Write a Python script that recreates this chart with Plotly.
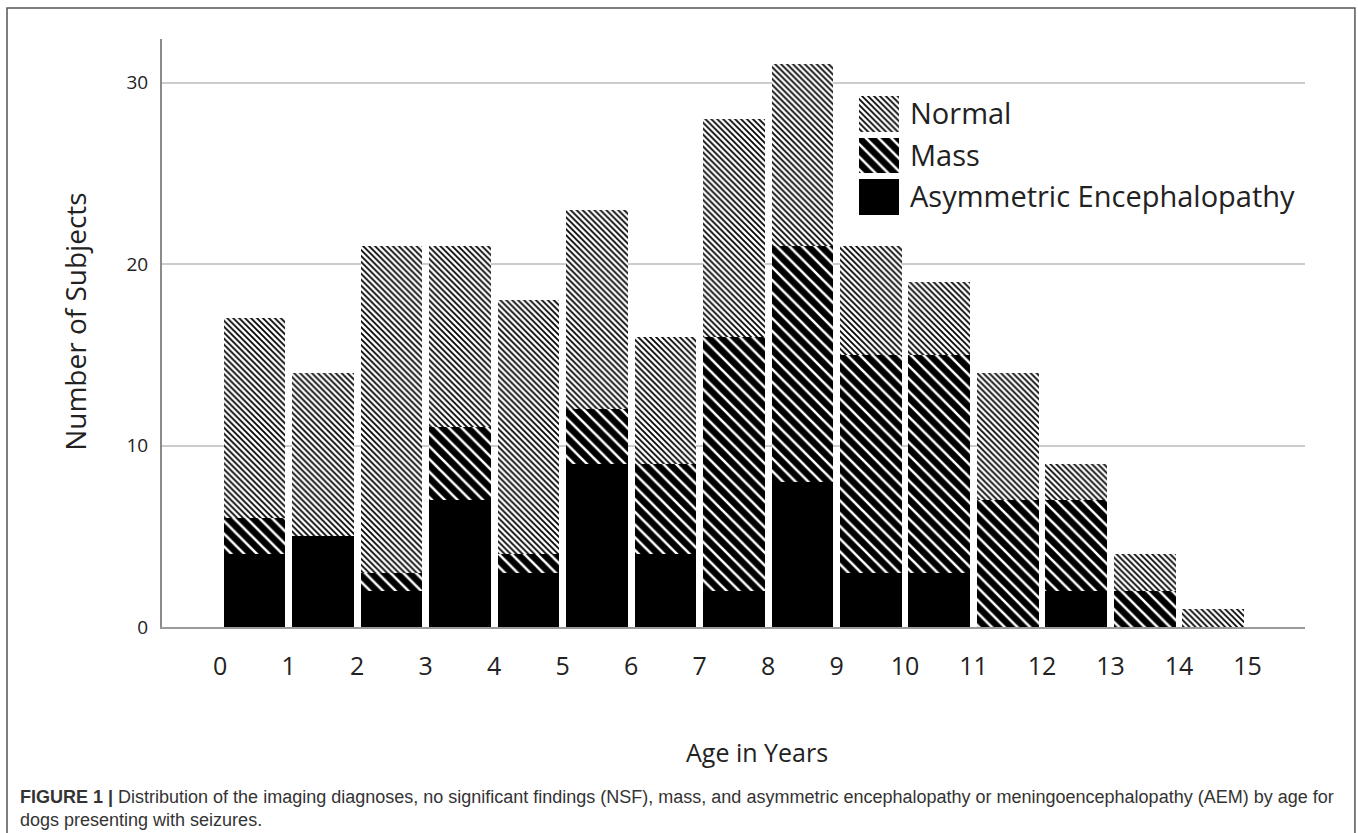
import plotly.graph_objects as go

# ---- data ----
age_bins = list(range(15))            # bin k spans age k .. k+1
aem    = [4, 5, 2, 7, 3, 9, 4, 2, 8, 3, 3, 0, 2, 0, 0]
mass   = [2, 0, 1, 4, 1, 3, 5, 14, 13, 12, 12, 7, 5, 2, 0]
normal = [11, 9, 18, 10, 14, 11, 7, 12, 10, 6, 4, 7, 2, 2, 1]
x_ticks = list(range(16))
y_ticks = [0, 10, 20, 30]
series_names = ["Normal", "Mass", "Asymmetric Encephalopathy"]

bin_centers = [b + 0.5 for b in age_bins]
FONT = "Open Sans"
TXT = "#222222"

norm_pattern = dict(shape="\\", size=4.2, solidity=0.42, fgcolor="black", bgcolor="white", fillmode="replace")
mass_pattern = dict(shape="\\", size=9, solidity=0.28, fgcolor="white", bgcolor="black", fillmode="replace")

fig = go.Figure()
fig.add_trace(go.Bar(x=bin_centers, y=aem, width=0.9, name=series_names[2],
                     marker=dict(color="black", line=dict(width=0)), showlegend=False))
fig.add_trace(go.Bar(x=bin_centers, y=mass, width=0.9, name=series_names[1],
                     marker=dict(color="black", pattern=mass_pattern, line=dict(width=0)), showlegend=False))
fig.add_trace(go.Bar(x=bin_centers, y=normal, width=0.9, name=series_names[0],
                     marker=dict(color="white", pattern=norm_pattern, line=dict(width=0)), showlegend=False))

# legend keys drawn as bars on a small inset axis
legend_styles = {
    "Normal": dict(color="white", pattern=norm_pattern, line=dict(width=0)),
    "Mass": dict(color="black", pattern=mass_pattern, line=dict(width=0)),
    "Asymmetric Encephalopathy": dict(color="black", line=dict(width=0)),
}
for nm in series_names:
    fig.add_trace(go.Bar(x=[1], y=[nm], orientation="h", width=0.86, marker=legend_styles[nm],
                         xaxis="x2", yaxis="y2", showlegend=False, hoverinfo="skip"))

fig.update_layout(
    width=1358, height=833, autosize=False,
    margin=dict(l=162, r=53, t=39, b=206),
    paper_bgcolor="white", plot_bgcolor="white",
    barmode="stack",
    font=dict(family=FONT, color=TXT),
    xaxis=dict(range=[-0.85, 15.84], tickmode="array", tickvals=x_ticks,
               ticktext=[str(v) for v in x_ticks], showgrid=False, zeroline=False,
               showline=True, linecolor="#9a9a9a", linewidth=2, ticks="",
               ticklabelstandoff=16, tickfont=dict(size=25, family=FONT, color=TXT)),
    yaxis=dict(range=[0, 32.4], tickmode="array", tickvals=y_ticks,
               showgrid=True, gridcolor="#cccccc", gridwidth=2, zeroline=False,
               showline=True, linecolor="#8a8a8a", linewidth=2, ticks="",
               ticklabelstandoff=8, tickfont=dict(size=19, family=FONT, color=TXT)),
    xaxis2=dict(domain=[0.6098, 0.6448], anchor="y2", range=[0, 1], visible=False),
    yaxis2=dict(domain=[0.6956, 0.9082], anchor="x2", side="right", type="category",
                categoryorder="array", categoryarray=series_names[::-1],
                showline=False, showgrid=False, zeroline=False, ticks="",
                ticklabelstandoff=10, tickfont=dict(size=29, family=FONT, color=TXT)),
)

fig.add_annotation(text="Number of Subjects", xref="paper", yref="paper", x=-0.0761, y=0.519,
                   xanchor="center", yanchor="middle",
                   textangle=-90, showarrow=False, font=dict(size=28, family=FONT, color=TXT))
fig.add_annotation(text="Age in Years", xref="paper", yref="paper", x=0.5206, y=-0.2126,
                   xanchor="center", yanchor="middle",
                   showarrow=False, font=dict(size=25, family=FONT, color=TXT))
fig.add_annotation(
    text="<b>FIGURE 1 |</b> Distribution of the imaging diagnoses, no significant findings (NSF), mass, and asymmetric encephalopathy or meningoencephalopathy (AEM) by age for<br>dogs presenting with seizures.",
    xref="paper", yref="paper", x=-0.126, y=-0.2687, xanchor="left", yanchor="top", align="left",
    showarrow=False, font=dict(size=18, family="Liberation Sans", color="#333333"))

fig.add_shape(type="rect", xref="paper", yref="paper", x0=-0.1356, x1=1.0437, y0=-0.5, y1=1.0527,
              line=dict(color="#555555", width=1.5), fillcolor="rgba(0,0,0,0)", layer="below")

fig.write_html("out.html", config={"displayModeBar": False},
               post_script="document.body.style.margin='0px';")
